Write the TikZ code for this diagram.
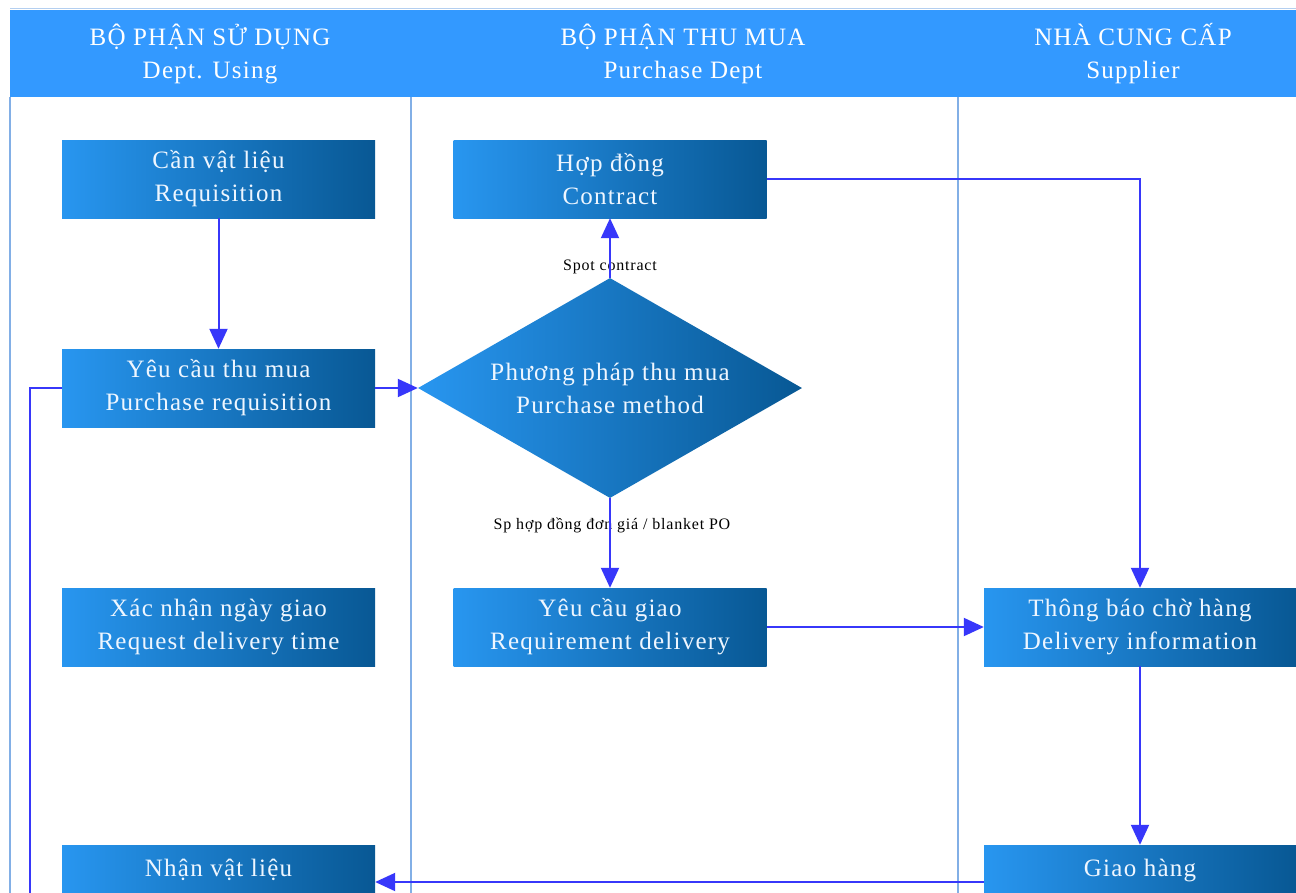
\documentclass[tikz,border=0pt]{standalone}
\usepackage{fontspec}
\setmainfont{Liberation Serif}[LetterSpace=5]
\usetikzlibrary{arrows.meta,shapes.geometric}
\definecolor{hdr}{RGB}{51,153,255}
\definecolor{lane}{RGB}{130,175,230}
\definecolor{boxL}{RGB}{40,150,240}
\definecolor{boxR}{RGB}{8,88,148}
\definecolor{conn}{RGB}{55,55,250}
\definecolor{txtw}{RGB}{238,246,255}
\tikzset{
  procbox/.style={rectangle, minimum width=313pt, minimum height=78pt, inner sep=0pt,
    shading=axis, left color=boxL, right color=boxR, text=txtw, align=center,
    font=\fontsize{25}{33}\selectfont},
  decbox/.style={diamond, shape aspect=1.745, minimum width=384pt, minimum height=220pt, inner sep=0pt,
    shading=axis, left color=boxL, right color=boxR, text=txtw, align=center,
    font=\fontsize{25}{33}\selectfont},
  hdrtext/.style={text=white, align=center, font=\fontsize{25}{33}\selectfont},
  conlabel/.style={text=black, font=\fontsize{16}{18}\selectfont, inner sep=1pt},
  lanel/.style={draw=lane, line width=1.3pt},
  conn/.style={draw=conn, line width=2pt, -{Triangle[length=20pt,width=18pt]}},
}
\begin{document}
\begin{tikzpicture}[x=1pt,y=-1pt]
\useasboundingbox (0,0) rectangle (1296,892);
\clip (0,0) rectangle (1296,892);
\fill[white] (0,0) rectangle (1296,892);
% header band
\fill[hdr] (10,10) rectangle (1300,97);
\draw[lane!60, line width=0.8pt] (10,8) -- (1300,8);
% lane lines
\draw[lanel] (10,97) -- (10,900);
\draw[lanel] (411,97) -- (411,900);
\draw[lanel] (958,97) -- (958,900);
% header texts
\node[hdrtext] (h1) at (210,54) {BỘ PHẬN SỬ DỤNG\\Dept. Using};
\node[hdrtext] (h2) at (683,54) {BỘ PHẬN THU MUA\\Purchase Dept};
\node[hdrtext] (h3) at (1133,54) {NHÀ CUNG CẤP\\Supplier};
% boxes
\node[procbox] (req) at (218.5,179) {Cần vật liệu\\Requisition};
\node[procbox] (preq) at (218.5,388) {Yêu cầu thu mua\\Purchase requisition};
\node[procbox] (conf) at (218.5,627) {Xác nhận ngày giao\\Request delivery time};
\node[procbox] (recv) at (218.5,884) {Nhận vật liệu\\\rule{0pt}{1pt}};
\node[procbox] (contract) at (610,179) {Hợp đồng\\Contract};
\node[decbox] (method) at (610,388) {Phương pháp thu mua\\Purchase method};
\node[procbox] (reqdel) at (610,627) {Yêu cầu giao\\Requirement delivery};
\node[procbox, minimum width=312pt] (notice) at (1140,627) {Thông báo chờ hàng\\Delivery information};
\node[procbox, minimum width=312pt] (deliver) at (1140,884) {Giao hàng\\\rule{0pt}{1pt}};
% labels
\node[conlabel] (lspot) at (610,267) {Spot contract};
\node[conlabel] (lblank) at (612,525) {Sp hợp đồng đơn giá / blanket PO};
% connectors
\draw[conn] (req.south) -- (preq.north);
\draw[conn] (preq.east) -- (method.west);
\draw[conn] (method.north) -- (contract.south);
\draw[conn] (method.south) -- (reqdel.north);
\draw[conn] (contract.east) -- (notice.north |- contract.east) -- (notice.north);
\draw[conn] (reqdel.east) -- (notice.west);
\draw[conn] (notice.south) -- (deliver.north);
\draw[conn] (deliver.west |- 0,882) -- (recv.east |- 0,882);
\coordinate (loopend) at (30,900);
\draw[draw=conn, line width=2pt] (preq.west) -- (30,388) -- (loopend);
\end{tikzpicture}
\end{document}
